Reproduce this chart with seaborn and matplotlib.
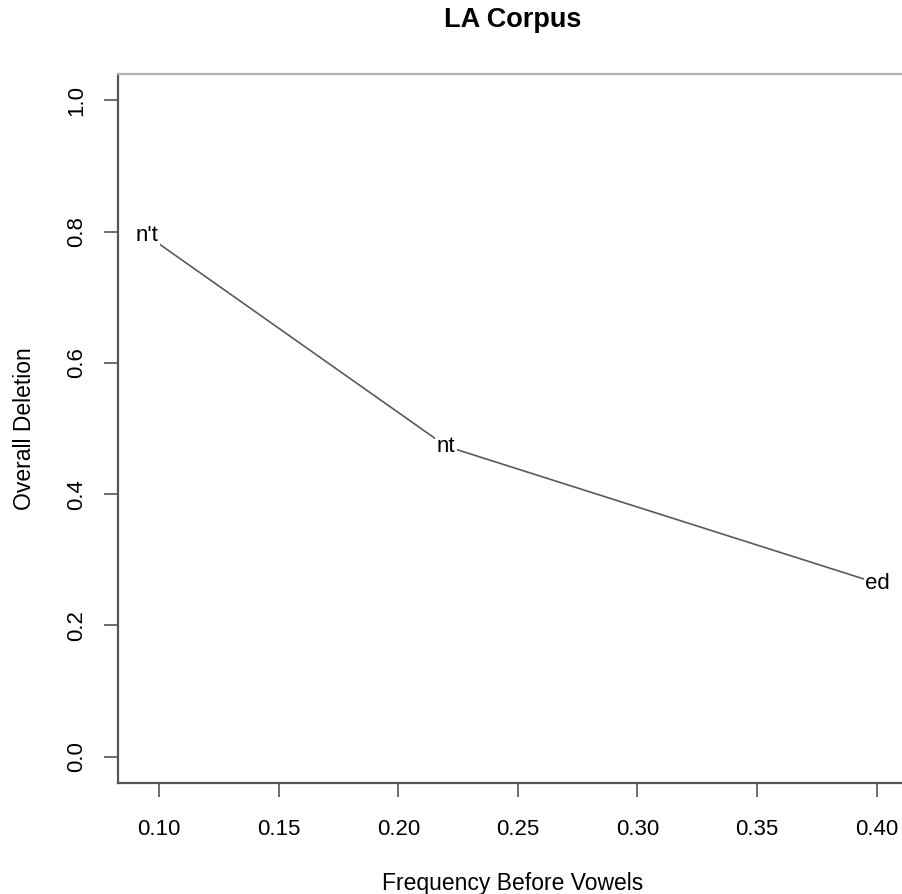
import matplotlib
matplotlib.use("Agg")
import matplotlib.pyplot as plt
import seaborn as sns
import pandas as pd

labels = ["n't", "nt", "ed"]
freq_before_vowels = [0.095, 0.220, 0.4005]
overall_deletion = [0.794, 0.473, 0.264]
x_ticks = [0.10, 0.15, 0.20, 0.25, 0.30, 0.35, 0.40]
y_ticks = [0.0, 0.2, 0.4, 0.6, 0.8, 1.0]

sns.set_style("white")
plt.rcParams['font.family'] = ['Liberation Sans', 'DejaVu Sans']
plt.rcParams['text.color'] = 'black'
plt.rcParams['axes.labelcolor'] = 'black'
plt.rcParams['xtick.labelcolor'] = 'black'
plt.rcParams['ytick.labelcolor'] = 'black'

df = pd.DataFrame({"x": freq_before_vowels, "y": overall_deletion, "label": labels})

fig = plt.figure(figsize=(9.03, 8.94), dpi=100)
ax = fig.add_axes([118/903, 1 - 783/894, 789/903, 709/894])

sns.lineplot(data=df, x="x", y="y", sort=False, color="#5a5a5a", linewidth=1.2, ax=ax)
for _, r in df.iterrows():
    ax.text(r["x"], r["y"], r["label"], ha="center", va="center", fontsize=16,
            color="black", bbox=dict(facecolor="white", edgecolor="none", pad=1.0))

ax.set_xlim(0.0828, 0.4127)
ax.set_ylim(-0.04, 1.04)
ax.set_xticks(x_ticks)
ax.set_xticklabels([f"{v:.2f}" for v in x_ticks])
ax.set_yticks(y_ticks)
ax.set_yticklabels([f"{v:.1f}" for v in y_ticks], rotation=90, va="center")
ax.tick_params(axis="both", direction="out", length=10, width=1.2, color="#555555",
               labelsize=16, labelcolor="black", bottom=True, left=True)
ax.tick_params(axis="x", pad=16)
ax.tick_params(axis="y", pad=12)

for s in ["left", "bottom"]:
    ax.spines[s].set_color("#555555")
    ax.spines[s].set_linewidth(1.6)
for s in ["top", "right"]:
    ax.spines[s].set_color("#b0b0b0")
    ax.spines[s].set_linewidth(1.6)

ax.set_xlabel("Frequency Before Vowels", fontsize=16.5, labelpad=23, color="black")
ax.set_ylabel("Overall Deletion", fontsize=16.5, labelpad=22, color="black")
fig.text(0.5 * (118 + 907) / 903, 1 - 20 / 894, "LA Corpus", ha="center", va="center",
         fontsize=19.5, fontweight="bold", color="black")

fig.savefig("out.png", dpi=100)
